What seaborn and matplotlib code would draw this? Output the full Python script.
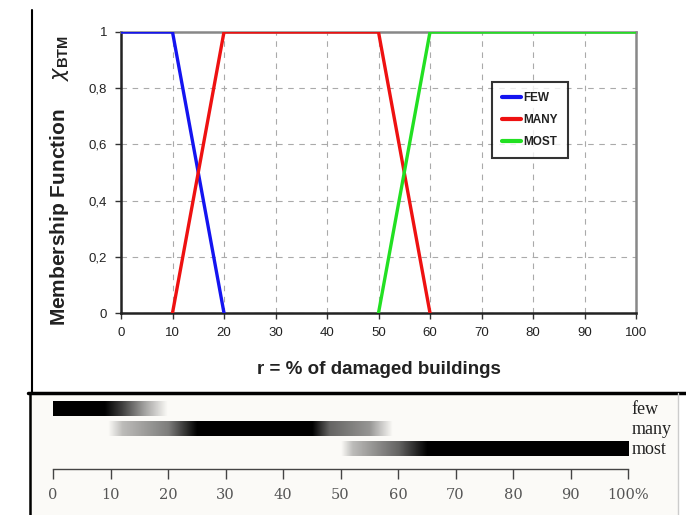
import numpy as np
import pandas as pd
import matplotlib
matplotlib.use("Agg")
import matplotlib.pyplot as plt
import seaborn as sns
from matplotlib.colors import LinearSegmentedColormap
from matplotlib.lines import Line2D
from matplotlib.patches import Rectangle

# ---------------- data ----------------
few_x = [0, 10, 20]
few_y = [1, 1, 0]
many_x = [10, 20, 50, 60]
many_y = [0, 1, 1, 0]
most_x = [50, 60, 100]
most_y = [0, 1, 1]
series_names = ["FEW", "MANY", "MOST"]
series_colors = ["#1414f0", "#ee1111", "#22e022"]

x_ticks = [0, 10, 20, 30, 40, 50, 60, 70, 80, 90, 100]
y_ticks = [0, 0.2, 0.4, 0.6, 0.8, 1]
y_tick_labels = ["0", "0,2", "0,4", "0,6", "0,8", "1"]

# bottom panel: gradient stops (position %, darkness 0..1)
few_pos = [0, 9, 12, 16, 20]
few_int = [1, 1, 0.75, 0.35, 0]
many_pos = [9.5, 12, 20, 25, 45, 48, 55, 59]
many_int = [0, 0.25, 0.5, 1, 1, 0.6, 0.4, 0]
most_pos = [50, 52, 60, 65, 100]
most_int = [0, 0.25, 0.6, 1, 1]
band_labels = ["few", "many", "most"]
band_rows = [3, 2, 1]
bottom_tick_labels = ["0", "10", "20", "30", "40", "50", "60", "70", "80", "90", "100%"]

df = pd.concat([
    pd.DataFrame({"r": few_x, "m": few_y, "set": "FEW"}),
    pd.DataFrame({"r": many_x, "m": many_y, "set": "MANY"}),
    pd.DataFrame({"r": most_x, "m": most_y, "set": "MOST"}),
])

sns.set_theme(style="white")
plt.rcParams["font.family"] = ["Liberation Sans", "DejaVu Sans"]

W, H = 686, 515
fig = plt.figure(figsize=(W / 100, H / 100), dpi=100)
fig.patch.set_facecolor("white")

def fx(px):
    return px / W

def fy(py):
    return 1 - py / H

# bottom panel background & frame
fig.patches.append(Rectangle((fx(29), 0), fx(678) - fx(29), fy(393), transform=fig.transFigure,
                             facecolor="#fbfaf7", edgecolor="none", zorder=-5))
fig.lines.append(Line2D([fx(28), 1], [fy(393), fy(393)], transform=fig.transFigure,
                        color="black", lw=2.5, zorder=1))
fig.lines.append(Line2D([fx(30), fx(30)], [fy(393), 0], transform=fig.transFigure,
                        color="black", lw=1.8, zorder=1))
fig.lines.append(Line2D([fx(678), fx(678)], [fy(393), 0], transform=fig.transFigure,
                        color="#cccccc", lw=1, zorder=1))
fig.lines.append(Line2D([fx(32), fx(32)], [fy(10), fy(393)], transform=fig.transFigure,
                        color="black", lw=1.5, zorder=1))

# ---------------- top chart ----------------
ax = fig.add_axes([fx(121), fy(313), fx(636) - fx(121), fy(32) - fy(313)])
ax.set_zorder(2)
sns.lineplot(data=df, x="r", y="m", hue="set", palette=dict(zip(series_names, series_colors)),
             linewidth=2.4, ax=ax, legend=True, zorder=3)
ax.set_xlim(0, 100)
ax.set_ylim(0, 1)
ax.set_xticks(x_ticks)
ax.set_xticklabels([str(t) for t in x_ticks])
ax.set_yticks(y_ticks)
ax.set_yticklabels(y_tick_labels)
ax.tick_params(axis="both", direction="out", length=4, width=1, colors="#333333",
               labelsize=9.5, labelcolor="#222222", pad=6, bottom=True, left=True)
ax.grid(True, color="#aaaaaa", linestyle=(0, (5, 5)), linewidth=0.8)
for side in ["left", "bottom"]:
    ax.spines[side].set_color("#222222")
    ax.spines[side].set_linewidth(1.8)
for side in ["top", "right"]:
    ax.spines[side].set_color("#888888")
    ax.spines[side].set_linewidth(1.8)
ax.set_xlabel("r = % of damaged buildings", fontsize=13.5, fontweight="bold", color="#222222")
ax.xaxis.set_label_coords(0.5, -0.17)
ax.set_ylabel("Membership Function     $\\chi_{\\mathregular{BTM}}$", fontsize=15,
              fontweight="bold", color="#222222")
ax.yaxis.set_label_coords(-0.097, 0.47)

handles, labels = ax.get_legend_handles_labels()
leg = ax.legend(handles, labels, loc="upper left", bbox_to_anchor=(0.72, 0.822), borderaxespad=0,
                frameon=True, fancybox=False, edgecolor="black", fontsize=8.5, handlelength=1.6,
                handletextpad=0.2, labelspacing=0.85, borderpad=0.85, title=None)
leg.get_frame().set_linewidth(1.5)
for t in leg.get_texts():
    t.set_fontweight("bold")
    t.set_color("#222222")
for lh in leg.get_lines():
    lh.set_linewidth(3)

# ---------------- bottom panel ----------------
ax2 = fig.add_axes([fx(53), fy(469), fx(628) - fx(53), fy(398) - fy(469)])
ax2.set_zorder(3)
ax2.set_facecolor("none")
ax2.patch.set_alpha(0)
cmap = LinearSegmentedColormap.from_list("band", ["#fbfaf7", "#000000"])
grid_x = np.linspace(0, 100, 1001)
bands = [(few_pos, few_int), (many_pos, many_int), (most_pos, most_int)]
for (pos, inten), row, name in zip(bands, band_rows, band_labels):
    x0, x1 = pos[0], pos[-1]
    xs = grid_x[(grid_x >= x0) & (grid_x <= x1)]
    vals = np.interp(xs, pos, inten)[None, :]
    ax2.imshow(vals, cmap=cmap, vmin=0, vmax=1, aspect="auto", interpolation="bilinear",
               extent=(x0, x1, row - 0.36, row + 0.36), zorder=2)
    ax2.text(100.6, row, name, ha="left", va="center", fontsize=13,
             family=["Liberation Serif", "DejaVu Serif"], color="#222222")
ax2.set_xlim(0, 100)
ax2.set_ylim(0, 3.55)
for side in ["left", "right", "top"]:
    ax2.spines[side].set_visible(False)
ax2.spines["bottom"].set_visible(True)
ax2.spines["bottom"].set_color("#444444")
ax2.spines["bottom"].set_linewidth(1.0)
ax2.set_yticks([])
ax2.set_xticks(x_ticks)
ax2.set_xticklabels(bottom_tick_labels, family=["DejaVu Serif"])
ax2.tick_params(axis="x", direction="out", length=7, width=1, colors="#444444", labelsize=10.5,
                labelcolor="#555555", pad=7, bottom=True)

fig.savefig("out.png", dpi=100)
